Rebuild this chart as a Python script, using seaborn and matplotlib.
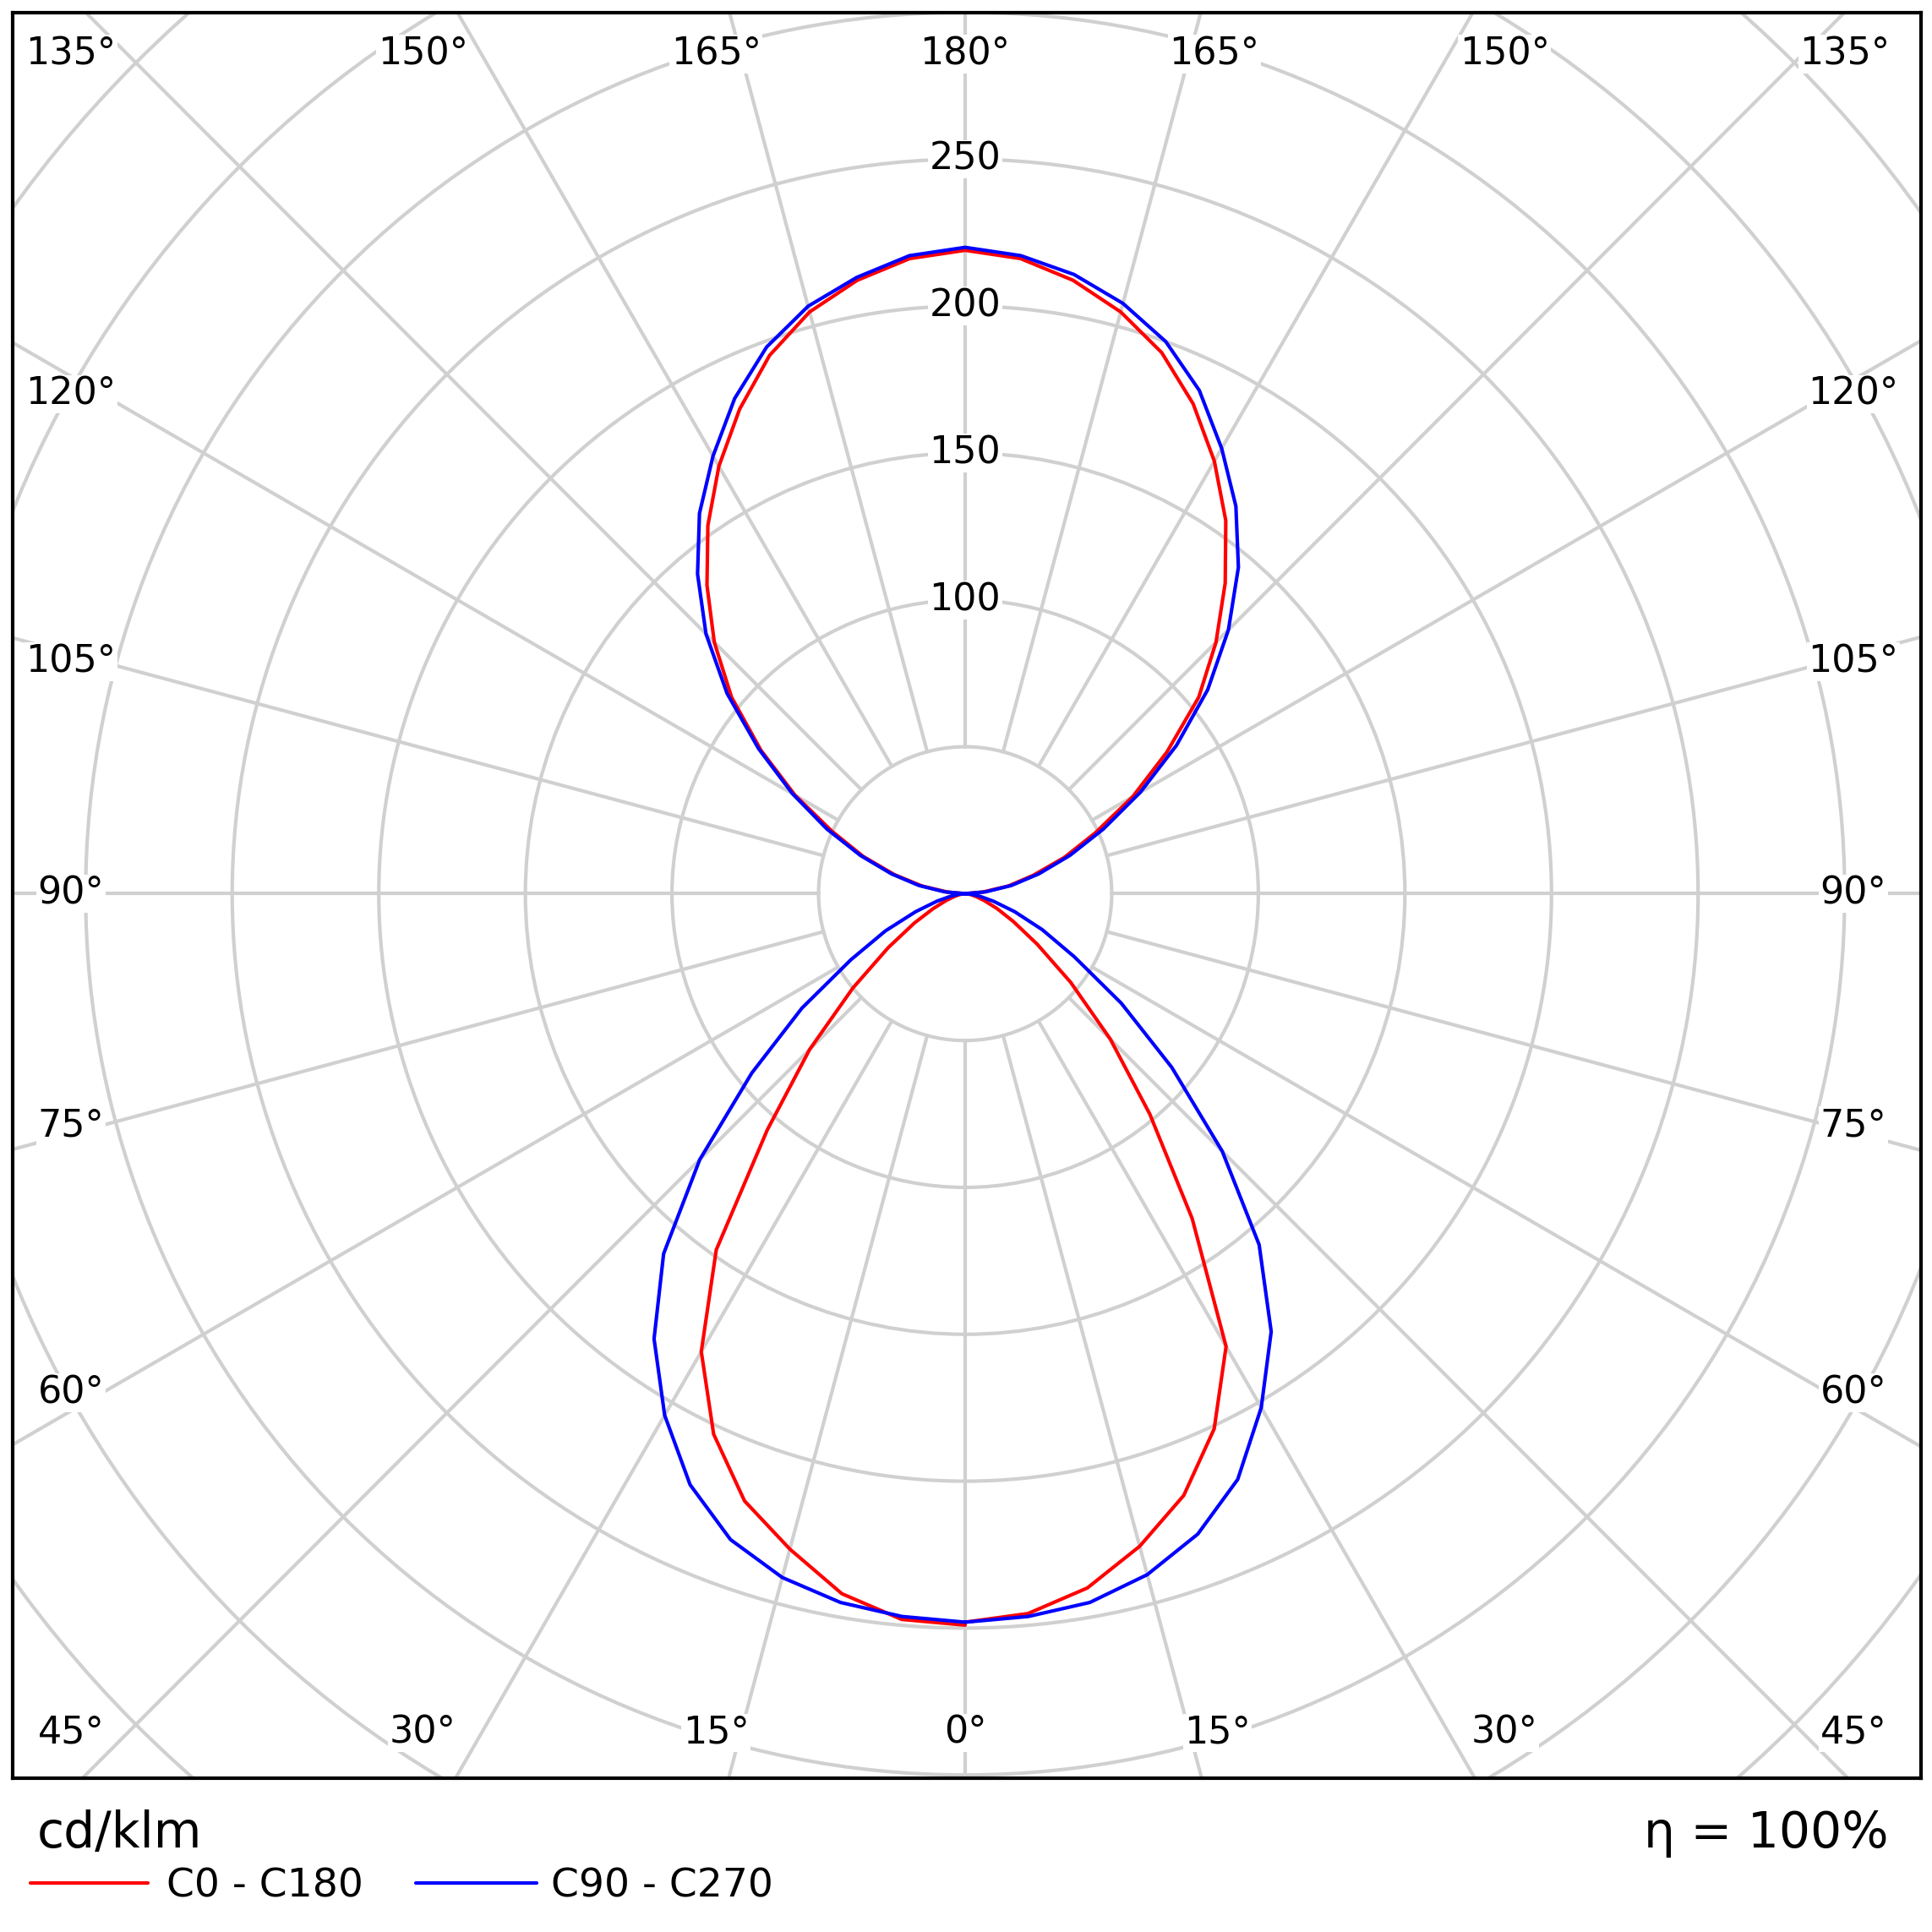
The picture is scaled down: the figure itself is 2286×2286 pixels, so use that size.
import numpy as np
import matplotlib
matplotlib.use("Agg")
import matplotlib.pyplot as plt
from matplotlib.patches import Circle
import seaborn as sns

sns.set_style("white")
plt.rcParams['font.family'] = ['DejaVu Sans']
plt.rcParams['text.color'] = 'black'

# gamma angles 0..180 every 5 degrees
gamma = np.arange(0, 181, 5)
c0 = [248, 246, 240, 230, 218, 201, 178, 135, 98, 70, 47, 30, 19, 12, 7, 4, 2, 1, 0,
      6, 15, 24, 36, 49, 66, 84, 104, 121, 138, 155, 170, 184, 196, 205, 212, 217, 219]
c180 = [249, 248, 242, 231, 220, 203, 180, 148, 105, 75, 50, 32, 20, 12, 7, 4, 2, 1, 0,
        6, 15, 25, 37, 50, 67, 85, 104, 121, 137, 153, 168, 182, 195, 205, 212, 217, 219]
c90 = [248, 247, 245, 240, 232, 220, 202, 182, 156, 124, 92, 65, 43, 29, 18, 10, 5, 2, 0,
       7, 16, 26, 38, 52, 69, 88, 108, 127, 145, 161, 175, 189, 200, 208, 214, 218, 220]
c270 = [248, 247, 245, 241, 234, 222, 205, 185, 160, 128, 95, 68, 45, 30, 18, 10, 5, 2, 0,
        7, 16, 26, 38, 52, 68, 86, 106, 125, 142, 158, 172, 186, 198, 207, 213, 218, 220]

ring_values = [50, 100, 150, 200, 250, 300, 350, 400, 450, 500]
ring_labels = [100, 150, 200, 250]
spoke_angles = np.arange(0, 360, 15)

# angle labels: text, x, y (data units)
angle_labels = [
    ("135°", -305, 285.7), ("150°", -185, 285.7), ("165°", -85, 285.7), ("180°", 0, 285.7),
    ("165°", 85, 285.7), ("150°", 184, 285.7), ("135°", 300, 285.7),
    ("45°", -305, -285.7), ("30°", -185, -285.7), ("15°", -85, -285.7), ("0°", 0, -285.7),
    ("15°", 86, -285.7), ("30°", 184, -285.7), ("45°", 303, -285.7),
    ("120°", -305, 170), ("105°", -305, 79), ("90°", -305, 0), ("75°", -305, -79), ("60°", -305, -170),
    ("120°", 303, 170), ("105°", 303, 79), ("90°", 303, 0), ("75°", 303, -79), ("60°", 303, -170),
]


def curve(right, left):
    g = np.deg2rad(gamma)
    r1 = np.array(right, float)
    r2 = np.array(left, float)[::-1]
    x = np.concatenate([r1 * np.sin(g), -r2 * np.sin(g[::-1])])
    y = np.concatenate([-r1 * np.cos(g), -r2 * np.cos(g[::-1])])
    return x, y


fig = plt.figure(figsize=(22.86, 22.86), dpi=100)
ax = fig.add_axes([10 / 1567, 1 - 1442 / 1567, 1548 / 1567, 1432 / 1567])
ax.set_xlim(-325, 326)
ax.set_ylim(-301, 300)
ax.set_aspect("auto")
ax.set_xticks([])
ax.set_yticks([])
for s in ax.spines.values():
    s.set_linewidth(3)
    s.set_color("black")

grid = "#d0d0d0"
for rv in ring_values:
    ax.add_patch(Circle((0, 0), rv, fill=False, ec=grid, lw=3, zorder=1))
for a in spoke_angles:
    t = np.deg2rad(a)
    ax.plot([50 * np.sin(t), 600 * np.sin(t)], [-50 * np.cos(t), -600 * np.cos(t)],
            color=grid, lw=3, zorder=1)

for rv in ring_labels:
    ax.text(0, rv, str(rv), ha="center", va="center", fontsize=32, zorder=2,
            bbox=dict(fc="white", ec="none", pad=1))

for txt, x, y in angle_labels:
    ax.text(x, y, txt, ha="center", va="center", fontsize=32, zorder=2,
            bbox=dict(fc="white", ec="none", pad=1))

x, y = curve(c0, c180)
sns.lineplot(x=x, y=y, sort=False, estimator=None, color="#ff0000", lw=3, ax=ax, zorder=3)
x, y = curve(c90, c270)
sns.lineplot(x=x, y=y, sort=False, estimator=None, color="#0000ff", lw=3, ax=ax, zorder=4)

fig.text(30 / 1567, 1 - 1487 / 1567, "cd/klm", fontsize=42, va="center", ha="left")
fig.text(1532 / 1567, 1 - 1487 / 1567, "η = 100%", fontsize=42, va="center", ha="right")
fig.add_artist(plt.Line2D([25 / 1567, 120 / 1567], [1 - 1527 / 1567] * 2, color="#ff0000", lw=3))
fig.text(135 / 1567, 1 - 1530 / 1567, "C0 - C180", fontsize=34, va="center", ha="left")
fig.add_artist(plt.Line2D([337 / 1567, 435 / 1567], [1 - 1527 / 1567] * 2, color="#0000ff", lw=3))
fig.text(447 / 1567, 1 - 1530 / 1567, "C90 - C270", fontsize=34, va="center", ha="left")

fig.savefig("out.png", dpi=100, facecolor="white")
